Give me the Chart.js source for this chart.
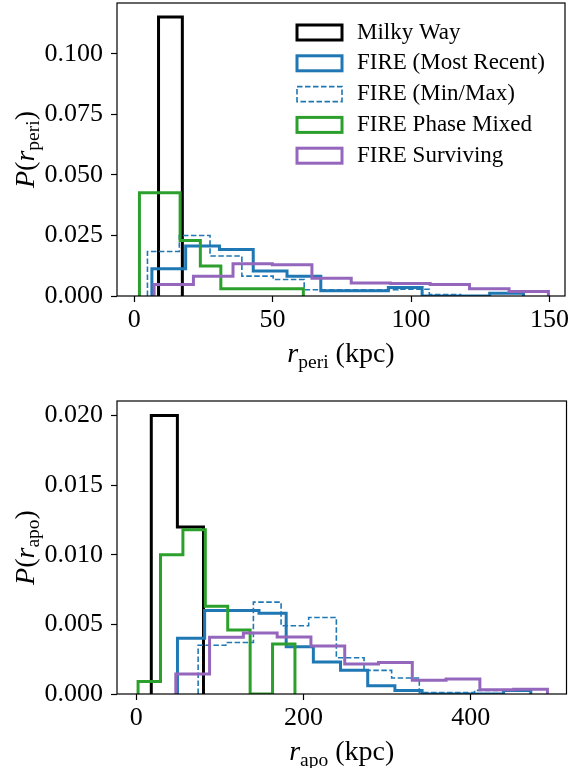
<!DOCTYPE html>
<html>
<head>
<meta charset="utf-8">
<script src="https://cdn.jsdelivr.net/npm/chart.js@4.4.1/dist/chart.umd.min.js"></script>
<style>
  html, body { margin: 0; padding: 0; background: #fff; }
  #wrap { position: relative; width: 569px; height: 768px; }
  canvas { position: absolute; left: 0; }
</style>
</head>
<body>
<div id="wrap">
  <canvas id="periChart" width="569" height="384" style="top:0"></canvas>
  <canvas id="apoChart" width="569" height="384" style="top:384px"></canvas>
</div>
<script>
// series names (legend order)
const seriesLabels = ['Milky Way', 'FIRE (Most Recent)', 'FIRE (Min/Max)', 'FIRE Phase Mixed', 'FIRE Surviving'];

// pericentre histograms: bin edges (kpc) + densities
const periMwEdges = [8.8, 17.4];
const periMwHeights = [0.1152];
const periRecentEdges = [6.4, 18.6, 30.8, 43.0, 55.2, 67.4, 79.6, 91.8, 104.0, 116.2, 128.4, 140.6];
const periRecentHeights = [0.0113, 0.0206, 0.0192, 0.0103, 0.0082, 0.0022, 0.0022, 0.0035, 0, 0, 0.0011];
const periMinMaxEdges = [4.8, 16.3, 27.4, 38.9, 50.2, 61.4, 72.7, 84.0, 95.3, 106.6, 117.9];
const periMinMaxHeights = [0.0184, 0.0250, 0.0165, 0.0082, 0.0068, 0.0026, 0.0026, 0.0026, 0.0028, 0.0006];
const periMixedEdges = [1.9, 9.3, 16.6, 23.9, 31.3, 38.7, 46.1, 53.6, 61.1];
const periMixedHeights = [0.0426, 0.0426, 0.0229, 0.0124, 0.0030, 0.0030, 0.0030, 0.0030];
const periSurvEdges = [7.2, 21.4, 35.7, 49.9, 64.2, 78.4, 92.6, 106.9, 121.1, 135.4, 149.6];
const periSurvHeights = [0.0048, 0.0082, 0.0133, 0.0129, 0.0073, 0.0054, 0.0052, 0.0047, 0.0030, 0.0019];

// apocentre histograms
const apoMwEdges = [18.0, 49.2, 80.4];
const apoMwHeights = [0.0200, 0.0120];
const apoRecentEdges = [49.3, 81.8, 114.3, 146.8, 179.3, 211.8, 244.3, 276.8, 309.3, 341.8, 374.3, 406.8, 439.3, 471.8];
const apoRecentHeights = [0.0040, 0.0060, 0.0060, 0.0058, 0.0034, 0.0023, 0.0017, 0.0006, 0.00025, 0, 0, 0, 0.00025];
const apoMinMaxEdges = [74.0, 107.1, 140.1, 173.2, 206.2, 239.3, 272.4, 305.4, 338.5, 371.6, 404.6, 437.7, 470.7];
const apoMinMaxHeights = [0.0035, 0.0037, 0.0066, 0.0049, 0.0055, 0.0026, 0.0017, 0.00115, 0.0001, 0.0001, 0.00026, 0.00026];
const apoMixedEdges = [2.2, 29.0, 55.8, 82.6, 109.4, 136.2, 163.0, 189.8];
const apoMixedHeights = [0.0009, 0.0100, 0.0118, 0.0063, 0.0046, 0, 0.0036];
const apoSurvEdges = [47.3, 87.7, 128.1, 168.5, 208.9, 249.3, 289.7, 330.1, 370.5, 410.9, 451.3, 491.7];
const apoSurvHeights = [0.00144, 0.00407, 0.00438, 0.0041, 0.00345, 0.00215, 0.00227, 0.00098, 0.00108, 0.00031, 0.00034];

// tick values
const periXTicks = [0, 50, 100, 150];
const periYTicks = [0, 0.025, 0.05, 0.075, 0.1];
const apoXTicks = [0, 200, 400];
const apoYTicks = [0, 0.005, 0.01, 0.015, 0.02];

const FONT = 'Liberation Serif';
const styles = [
    {color: '#000000', width: 3, dash: []},
    {color: '#1f77b4', width: 3, dash: []},
    {color: '#1f77b4', width: 1.6, dash: [5.5, 2.5]},
    {color: '#2ca02c', width: 3, dash: []},
    {color: '#9467bd', width: 3, dash: []}
];

// outline of a step histogram from edges + heights
function stepPoints(edges, heights) {
    const pts = [{x: edges[0], y: 0}];
    for (let i = 0; i < heights.length; i++) {
        pts.push({x: edges[i], y: heights[i]});
        pts.push({x: edges[i + 1], y: heights[i]});
    }
    pts.push({x: edges[edges.length - 1], y: 0});
    return pts;
}

function makeDatasets(series) {
    return series.map((s, i) => ({
        label: seriesLabels[i],
        data: stepPoints(s[0], s[1]),
        borderColor: styles[i].color,
        borderWidth: styles[i].width,
        borderDash: styles[i].dash,
        borderJoinStyle: 'miter',
        borderCapStyle: 'butt',
        pointRadius: 0,
        fill: false,
        tension: 0,
        order: series.length - i // later series drawn on top
    }));
}

function fontFor(p) {
    if (p.s === 'it') return 'italic 28px "' + FONT + '"';
    if (p.s === 'sub') return '19.5px "' + FONT + '"';
    return '28px "' + FONT + '"';
}

// text with a subscript, centred on (x, y)
function drawRich(ctx, parts, x, y, angle) {
    ctx.save();
    ctx.translate(x, y);
    ctx.rotate(angle);
    let total = 0;
    parts.forEach(p => { ctx.font = fontFor(p); total += ctx.measureText(p.t).width; });
    let cx = -total / 2;
    ctx.textAlign = 'left';
    ctx.textBaseline = 'alphabetic';
    ctx.fillStyle = '#000';
    parts.forEach(p => {
        ctx.font = fontFor(p);
        ctx.fillText(p.t, cx, p.s === 'sub' ? 5.5 : 0);
        cx += ctx.measureText(p.t).width;
    });
    ctx.restore();
}

function framePlugin(xTitle, yTitle, xTitleY, withLegend) {
    return {
        id: 'frame',
        afterDatasetsDraw(chart) {
            const a = chart.chartArea, ctx = chart.ctx;
            ctx.save();
            ctx.strokeStyle = '#000';
            ctx.lineWidth = 1.2;
            ctx.setLineDash([]);
            ctx.strokeRect(a.left, a.top, a.right - a.left, a.bottom - a.top);
            ctx.restore();
        },
        afterDraw(chart) {
            const a = chart.chartArea, ctx = chart.ctx;
            drawRich(ctx, xTitle, (a.left + a.right) / 2, xTitleY, 0);
            drawRich(ctx, yTitle, 33.5, (a.top + a.bottom) / 2, -Math.PI / 2);
            if (!withLegend) return;
            ctx.save();
            chart.data.datasets.forEach((ds, i) => {
                const cy = 32.5 + i * 30.8;
                ctx.strokeStyle = ds.borderColor;
                ctx.lineWidth = ds.borderWidth;
                ctx.setLineDash(ds.borderDash);
                ctx.lineJoin = 'miter';
                ctx.strokeRect(297, cy - 7.5, 45, 15);
                ctx.setLineDash([]);
                ctx.fillStyle = '#000';
                ctx.font = '23px "' + FONT + '"';
                ctx.textBaseline = 'middle';
                ctx.textAlign = 'left';
                ctx.fillText(ds.label, 357, cy);
            });
            ctx.restore();
        }
    };
}

function makeChart(id, series, cfg) {
    const tickFont = {family: FONT, size: 26};
    return new Chart(document.getElementById(id), {
        type: 'line',
        data: {datasets: makeDatasets(series)},
        options: {
            responsive: false,
            animation: false,
            devicePixelRatio: 1,
            layout: {padding: cfg.padding},
            plugins: {legend: {display: false}, tooltip: {enabled: false}},
            scales: {
                x: {
                    type: 'linear',
                    min: cfg.xMin, max: cfg.xMax,
                    bounds: 'data',
                    afterBuildTicks: s => { s.ticks = cfg.xTicks.map(v => ({value: v})); },
                    afterFit: s => { s.height = cfg.xAxisH; s.paddingLeft = 0; s.paddingRight = 0; },
                    border: {display: false},
                    grid: {drawOnChartArea: false, drawTicks: true, tickLength: 6, tickWidth: 1.2, tickColor: '#000'},
                    ticks: {font: tickFont, color: '#000', padding: 3, maxRotation: 0, autoSkip: false,
                            callback: v => String(v)}
                },
                y: {
                    min: 0, max: cfg.yMax,
                    bounds: 'data',
                    afterBuildTicks: s => { s.ticks = cfg.yTicks.map(v => ({value: v})); },
                    afterFit: s => { s.width = 117; s.paddingTop = 0; s.paddingBottom = 0; },
                    border: {display: false},
                    grid: {drawOnChartArea: false, drawTicks: true, tickLength: 6, tickWidth: 1.2, tickColor: '#000'},
                    ticks: {font: tickFont, color: '#000', padding: 8, autoSkip: false,
                            callback: v => v.toFixed(3)}
                }
            }
        },
        plugins: [framePlugin(cfg.xTitle, cfg.yTitle, cfg.xTitleY, cfg.legend)]
    });
}

makeChart('periChart', [
    [periMwEdges, periMwHeights],
    [periRecentEdges, periRecentHeights],
    [periMinMaxEdges, periMinMaxHeights],
    [periMixedEdges, periMixedHeights],
    [periSurvEdges, periSurvHeights]
], {
    padding: {top: 3, right: 4, left: 0, bottom: 0},
    xMin: -6.2, xMax: 155.6, yMax: 0.121,
    xTicks: periXTicks, yTicks: periYTicks,
    xAxisH: 88, xTitleY: 362, legend: true,
    xTitle: [{t: 'r', s: 'it'}, {t: 'peri', s: 'sub'}, {t: ' (kpc)', s: 'rm'}],
    yTitle: [{t: 'P', s: 'it'}, {t: '(', s: 'rm'}, {t: 'r', s: 'it'}, {t: 'peri', s: 'sub'}, {t: ')', s: 'rm'}]
});

makeChart('apoChart', [
    [apoMwEdges, apoMwHeights],
    [apoRecentEdges, apoRecentHeights],
    [apoMinMaxEdges, apoMinMaxHeights],
    [apoMixedEdges, apoMixedHeights],
    [apoSurvEdges, apoSurvHeights]
], {
    padding: {top: 17, right: 2.5, left: 0, bottom: 0},
    xMin: -23, xMax: 514.5, yMax: 0.02105,
    xTicks: apoXTicks, yTicks: apoYTicks,
    xAxisH: 74, xTitleY: 376, legend: false,
    xTitle: [{t: 'r', s: 'it'}, {t: 'apo', s: 'sub'}, {t: ' (kpc)', s: 'rm'}],
    yTitle: [{t: 'P', s: 'it'}, {t: '(', s: 'rm'}, {t: 'r', s: 'it'}, {t: 'apo', s: 'sub'}, {t: ')', s: 'rm'}]
});
</script>
</body>
</html>
